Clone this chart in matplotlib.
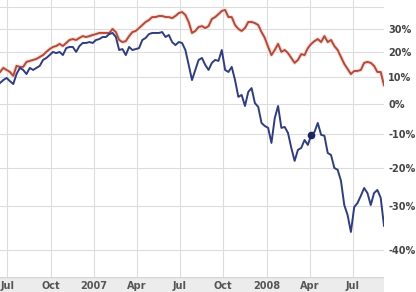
import numpy as np
import pandas as pd
import matplotlib
matplotlib.use('Agg')
import matplotlib.pyplot as plt
import matplotlib.patheffects as pe

# weekly closes, % change from start
start = '2006-06-16'
red_pct = [11.8, 13.4, 12.6, 11.8, 10.3, 14.2, 13.8, 13.8, 15.8, 16.2,
           16.6, 17.0, 17.8, 18.6, 19.9, 21.1, 22.0, 22.4, 23.3, 22.4,
           23.7, 25.0, 25.4, 25.0, 25.9, 26.7, 26.3, 26.7, 27.2, 27.6,
           28.1, 28.1, 28.1, 28.1, 29.9, 28.5, 25.0, 24.1, 24.5, 26.7,
           28.5, 29.0, 30.3, 31.7, 33.1, 34.0, 35.4, 35.4, 35.9, 35.9,
           35.4, 35.4, 34.9, 35.9, 37.3, 37.8, 36.4, 33.1, 28.1, 29.0,
           30.8, 31.2, 30.3, 31.2, 34.5, 35.4, 36.8, 38.3, 38.8, 35.4,
           35.4, 31.7, 29.9, 29.0, 30.3, 33.1, 33.1, 32.6, 31.7, 28.5,
           25.9, 22.0, 18.6, 20.7, 23.3, 19.9, 20.7, 19.4, 17.4, 15.4,
           16.6, 19.0, 18.6, 21.5, 23.3, 24.5, 25.4, 24.1, 26.7, 24.1,
           25.0, 22.4, 20.7, 17.8, 15.0, 13.0, 11.0, 12.2, 12.2, 12.6,
           15.4, 15.8, 15.4, 14.2, 11.8, 11.8, 6.8]
blue_pct = [7.6, 8.7, 9.5, 8.3, 7.2, 11.0, 13.4, 12.6, 11.0, 13.4,
            12.6, 13.4, 14.2, 16.6, 17.4, 18.6, 19.9, 19.4, 19.9, 18.6,
            21.5, 22.0, 22.0, 19.9, 22.4, 23.7, 23.7, 24.1, 23.7, 25.0,
            25.4, 26.3, 26.3, 27.6, 28.1, 26.3, 20.7, 21.1, 18.6, 22.0,
            20.7, 21.1, 21.5, 25.0, 25.9, 27.6, 28.1, 28.1, 28.1, 28.5,
            26.3, 27.2, 24.1, 22.8, 24.1, 23.7, 20.7, 14.6, 8.7, 12.6,
            16.6, 17.4, 14.6, 12.6, 15.4, 16.6, 16.2, 20.7, 12.6, 11.8,
            13.8, 8.7, 2.5, 3.2, -0.7, 4.3, 5.7, 0.3, -1.0, -6.4,
            -7.4, -8.0, -12.7, -4.8, -0.7, -8.0, -7.7, -9.6, -14.2, -18.0,
            -14.8, -14.2, -11.8, -13.3, -10.2, -9.3, -6.4, -10.2, -10.5, -15.7,
            -16.3, -20.0, -20.5, -23.5, -29.7, -32.1, -36.0, -30.2, -29.2, -27.4,
            -25.4, -26.7, -29.7, -26.7, -25.9, -27.9, -34.6]
marker_idx = 94

y_ticks = [-40, -30, -20, -10, 0, 10, 20, 30]
x_ticks = ['2006-07-01', '2006-10-01', '2007-01-01', '2007-04-01', '2007-07-01',
           '2007-10-01', '2008-01-01', '2008-04-01', '2008-07-01']
x_labels = ['Jul', 'Oct', '2007', 'Apr', 'Jul', 'Oct', '2008', 'Apr', 'Jul']

dates = pd.date_range(start, periods=len(red_pct), freq='7D')

fig = plt.figure(figsize=(4.16, 2.92), dpi=100)
ax = fig.add_axes([0, 15 / 292, 384 / 416, 277 / 292])

# ratio scale on 1 + r
ax.set_yscale('function', functions=(lambda v: np.log1p(np.asarray(v) / 100),
                                      lambda u: np.expm1(np.asarray(u)) * 100))
ax.set_ylim(-45.3, 43.7)
ax.set_xlim(dates[0], dates[-1])

ax.set_yticks(y_ticks + [40])
ax.set_yticklabels([f'{t}%' for t in y_ticks] + [''])
ax.set_xticks(pd.to_datetime(x_ticks))
ax.set_xticklabels(x_labels)
ax.grid(True, color='#dcdcdc', linewidth=0.8)
ax.set_axisbelow(True)

ax.yaxis.tick_right()
ax.tick_params(axis='y', length=0, pad=3, labelsize=7, labelcolor='#444444')
ax.tick_params(axis='x', length=0, pad=3, labelsize=7, labelcolor='#555555')
for lab in ax.get_yticklabels() + ax.get_xticklabels():
    lab.set_fontweight('bold')
for s in ax.spines.values():
    s.set_visible(False)

halo = [pe.Stroke(linewidth=3, foreground='#f8e0da'), pe.Normal()]
ax.plot(dates, red_pct, color='#b04a3c', linewidth=1.4, path_effects=halo)
ax.plot(dates, blue_pct, color='#2f3d7c', linewidth=1.4)
ax.plot(dates[marker_idx], blue_pct[marker_idx], 'o', color='#1c275e', markersize=4.5)

# gray strip behind the month labels
band = fig.add_axes([0, 0, 384 / 416, 15 / 292], zorder=-1)
band.set_facecolor('#ececec')
band.set_xticks([])
band.set_yticks([])
for s in band.spines.values():
    s.set_visible(False)
band.axhline(1, color='#d4d4d4', linewidth=1)

fig.savefig('out.png', dpi=100)
